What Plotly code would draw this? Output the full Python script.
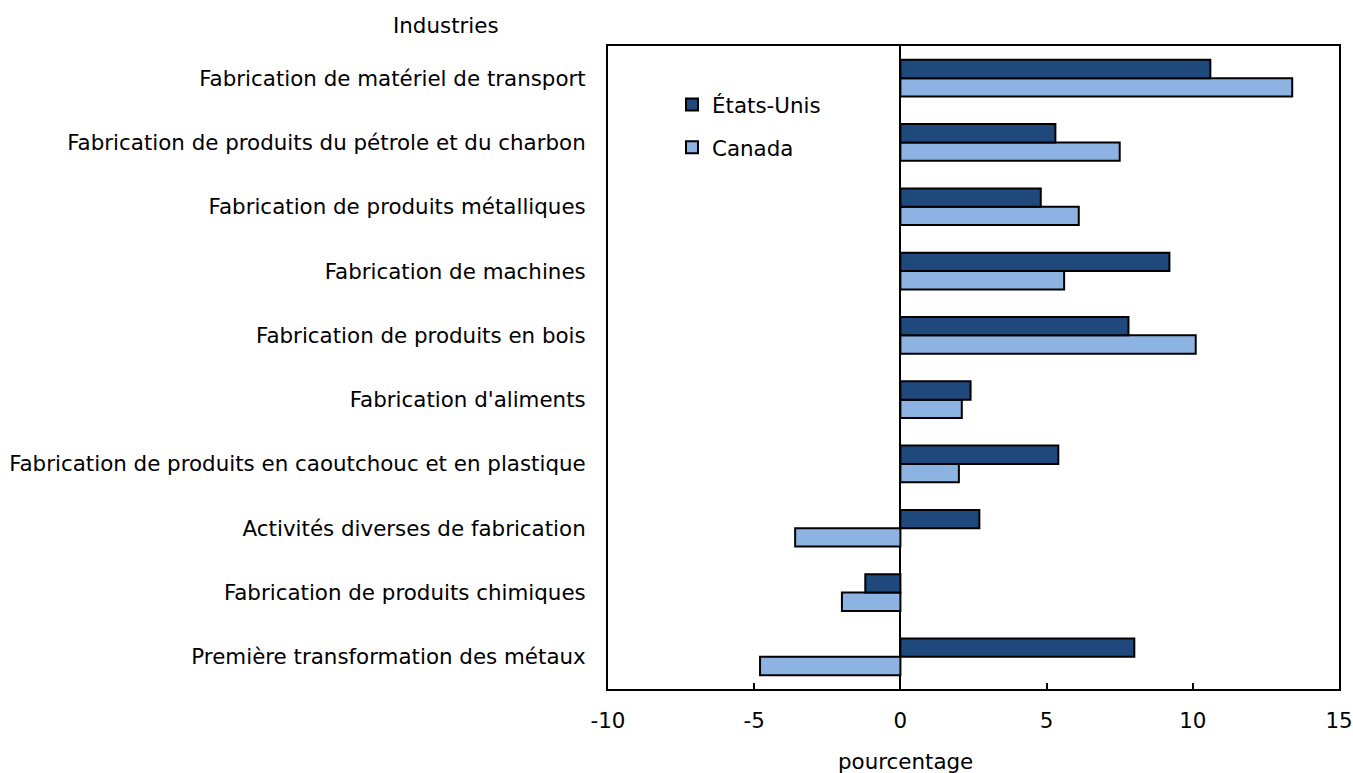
import plotly.graph_objects as go

categories = [
    "Fabrication de matériel de transport",
    "Fabrication de produits du pétrole et du charbon",
    "Fabrication de produits métalliques",
    "Fabrication de machines",
    "Fabrication de produits en bois",
    "Fabrication d'aliments",
    "Fabrication de produits en caoutchouc et en plastique",
    "Activités diverses de fabrication",
    "Fabrication de produits chimiques",
    "Première transformation des métaux",
]
etats_unis = [10.6, 5.3, 4.8, 9.2, 7.8, 2.4, 5.4, 2.7, -1.2, 8.0]
canada = [13.4, 7.5, 6.1, 5.6, 10.1, 2.1, 2.0, -3.6, -2.0, -4.8]
tick_vals = [-10, -5, 0, 5, 10, 15]
tick_text = ["-10", "-5", "0", "5", "10", "15"]

FONT = "DejaVu Sans"
FS = 21.4
W, H = 1353, 773
PL, PR, PT, PB = 608, 1339, 46, 689  # plot area in page pixels
L, T = PL, PT
R, B = W - PR, H - PB
pw, ph = PR - PL, PB - PT

fig = go.Figure()
fig.add_trace(go.Bar(
    y=categories, x=canada, orientation="h", name="Canada",
    legendgroup="ca", legendrank=2,
    marker=dict(color="#8DB3E2", line=dict(color="black", width=2)),
))
fig.add_trace(go.Bar(
    y=categories, x=etats_unis, orientation="h", name="États-Unis",
    legendgroup="us", legendrank=1,
    marker=dict(color="#1F497D", line=dict(color="black", width=2)),
))

fig.update_layout(
    width=W, height=H, autosize=False,
    margin=dict(l=L, r=R, t=T, b=B, pad=0, autoexpand=False),
    plot_bgcolor="white", paper_bgcolor="white",
    barmode="group", bargap=0.43, bargroupgap=0,
    font=dict(family=FONT, size=FS, color="black"),
    showlegend=True,
    legend=dict(
        x=(672 - PL) / pw, y=(PB - 84) / ph, xanchor="left", yanchor="top",
        traceorder="grouped", tracegroupgap=12,
        bgcolor="rgba(0,0,0,0)",
        font=dict(family=FONT, size=FS), itemwidth=30,
    ),
    xaxis=dict(
        range=[-10, 15], tickvals=tick_vals, ticktext=tick_text,
        showgrid=False, zeroline=True, zerolinecolor="black", zerolinewidth=2,
        showline=True, linecolor="black", linewidth=2, mirror=True,
        ticks="inside", ticklen=6, tickwidth=2, tickcolor="black",
        ticklabelstandoff=11, automargin=False,
    ),
    yaxis=dict(
        categoryorder="array", categoryarray=categories[::-1],
        range=[-0.5, 9.5], showgrid=False,
        showline=True, linecolor="black", linewidth=2, mirror=True,
        ticks="", ticklabelstandoff=16, automargin=False,
    ),
    annotations=[
        dict(text="Industries", xref="paper", yref="paper",
             x=(446 - PL) / pw, y=(PB - 26) / ph, xanchor="center", yanchor="middle",
             showarrow=False, font=dict(family=FONT, size=FS)),
        dict(text="pourcentage", xref="paper", yref="paper",
             x=(905 - PL) / pw, y=(PB - 761) / ph, xanchor="center", yanchor="middle",
             showarrow=False, font=dict(family=FONT, size=FS)),
    ],
)

fig.write_html(
    "out.html",
    config={"responsive": False, "displayModeBar": False},
    post_script="document.body.style.margin='0';document.body.style.overflow='hidden';",
)
